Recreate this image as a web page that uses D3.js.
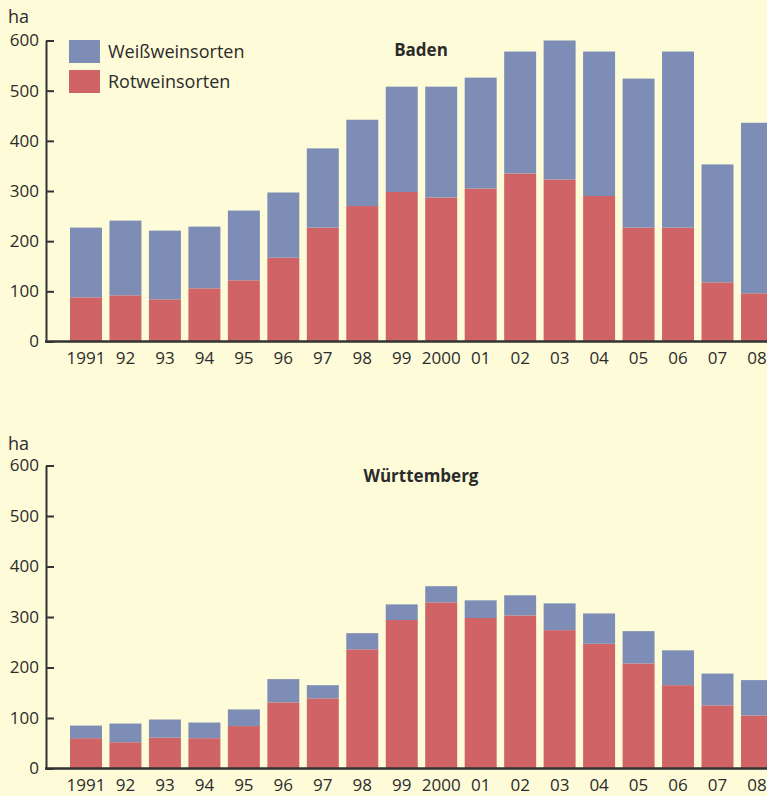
<!DOCTYPE html>
<html>
<head>
<meta charset="utf-8">
<script src="https://d3js.org/d3.v7.min.js"></script>
<style>
  body { margin: 0; background: #fefbd9; }
  text { font-family: "Open Sans", sans-serif; fill: #2b2b2b; }
  .tick text { font-size: 17px; }
  .panel-title { font-size: 17px; font-weight: bold; text-anchor: middle; }
  .legend text { font-size: 18px; }
  .unit { font-size: 18px; }
</style>
</head>
<body>
<svg id="chart" width="767" height="796"></svg>
<script>
// Jahre
const years = ["1991","92","93","94","95","96","97","98","99","2000","01","02","03","04","05","06","07","08"];
const yTicks = [0, 100, 200, 300, 400, 500, 600];

// Baden (ha)
const badenRot   = [88, 92, 84, 106, 122, 167, 227, 270, 298, 287, 305, 335, 323, 290, 227, 227, 118, 96];
const badenWeiss = [139, 149, 137, 123, 139, 130, 158, 172, 210, 221, 221, 243, 277, 288, 297, 351, 235, 340];

// Württemberg (ha)
const wuertRot   = [60, 52, 61, 60, 84, 131, 139, 236, 294, 329, 298, 303, 274, 247, 208, 165, 125, 105];
const wuertWeiss = [25, 37, 36, 31, 33, 46, 26, 32, 31, 32, 35, 40, 53, 60, 64, 69, 63, 70];

const colors = { rot: "#cf6366", weiss: "#7d8db5" };

const W = 767, H = 796;
const svg = d3.select("#chart");
svg.append("rect").attr("width", W).attr("height", H).attr("fill", "#fefbd9");

const axisX = 46;
const step = 39.47, pad = 0.19;
const x = d3.scaleBand()
  .domain(years)
  .range([70 - step * pad / 2, 70 - step * pad / 2 + step * years.length])
  .paddingInner(pad)
  .paddingOuter(pad / 2);

function drawPanel(rot, weiss, title, yBottom, yTop, titleY, unitY, withLegend) {
  const g = svg.append("g");
  const y = d3.scaleLinear().domain([0, 600]).range([yBottom, yTop]);

  const rows = years.map((yr, i) => ({ year: yr, rot: rot[i], weiss: weiss[i] }));
  const series = d3.stack().keys(["rot", "weiss"])(rows);

  g.selectAll("g.layer")
    .data(series)
    .join("g")
    .attr("class", "layer")
    .attr("fill", d => colors[d.key])
    .selectAll("rect")
    .data(d => d)
    .join("rect")
    .attr("x", d => x(d.data.year))
    .attr("width", x.bandwidth())
    .attr("y", d => y(d[1]))
    .attr("height", d => y(d[0]) - y(d[1]));

  // y axis
  const ya = g.append("g")
    .attr("transform", `translate(${axisX},0)`)
    .call(d3.axisLeft(y).tickValues(yTicks).tickSize(-8).tickSizeOuter(0).tickPadding(7));
  ya.selectAll("path, line").attr("stroke", "#333").attr("stroke-width", 2);
  ya.selectAll("text").style("font-size", "17px");

  // x axis
  const xa = g.append("g")
    .attr("transform", `translate(0,${y(0)})`)
    .call(d3.axisBottom(x).tickSize(0).tickPadding(10));
  xa.select(".domain").remove();
  xa.selectAll("text").style("font-size", "17px");
  g.append("line")
    .attr("x1", axisX - 1).attr("x2", W)
    .attr("y1", y(0)).attr("y2", y(0))
    .attr("stroke", "#333").attr("stroke-width", 2.5);

  g.append("text").attr("class", "unit").attr("x", 8).attr("y", unitY).text("ha");
  g.append("text").attr("class", "panel-title").attr("x", 421).attr("y", titleY).text(title);

  if (withLegend) {
    const items = [["weiss", "Weißweinsorten"], ["rot", "Rotweinsorten"]];
    const lg = g.append("g").attr("class", "legend");
    items.forEach(([k, label], i) => {
      lg.append("rect").attr("x", 69).attr("y", 40 + i * 30).attr("width", 31).attr("height", 23).attr("fill", colors[k]);
      lg.append("text").attr("x", 108).attr("y", 58 + i * 30).text(label);
    });
  }
}

drawPanel(badenRot, badenWeiss, "Baden", 341.5, 40.5, 56, 23, true);
drawPanel(wuertRot, wuertWeiss, "Württemberg", 768.5, 465.5, 482, 450, false);
</script>
</body>
</html>
